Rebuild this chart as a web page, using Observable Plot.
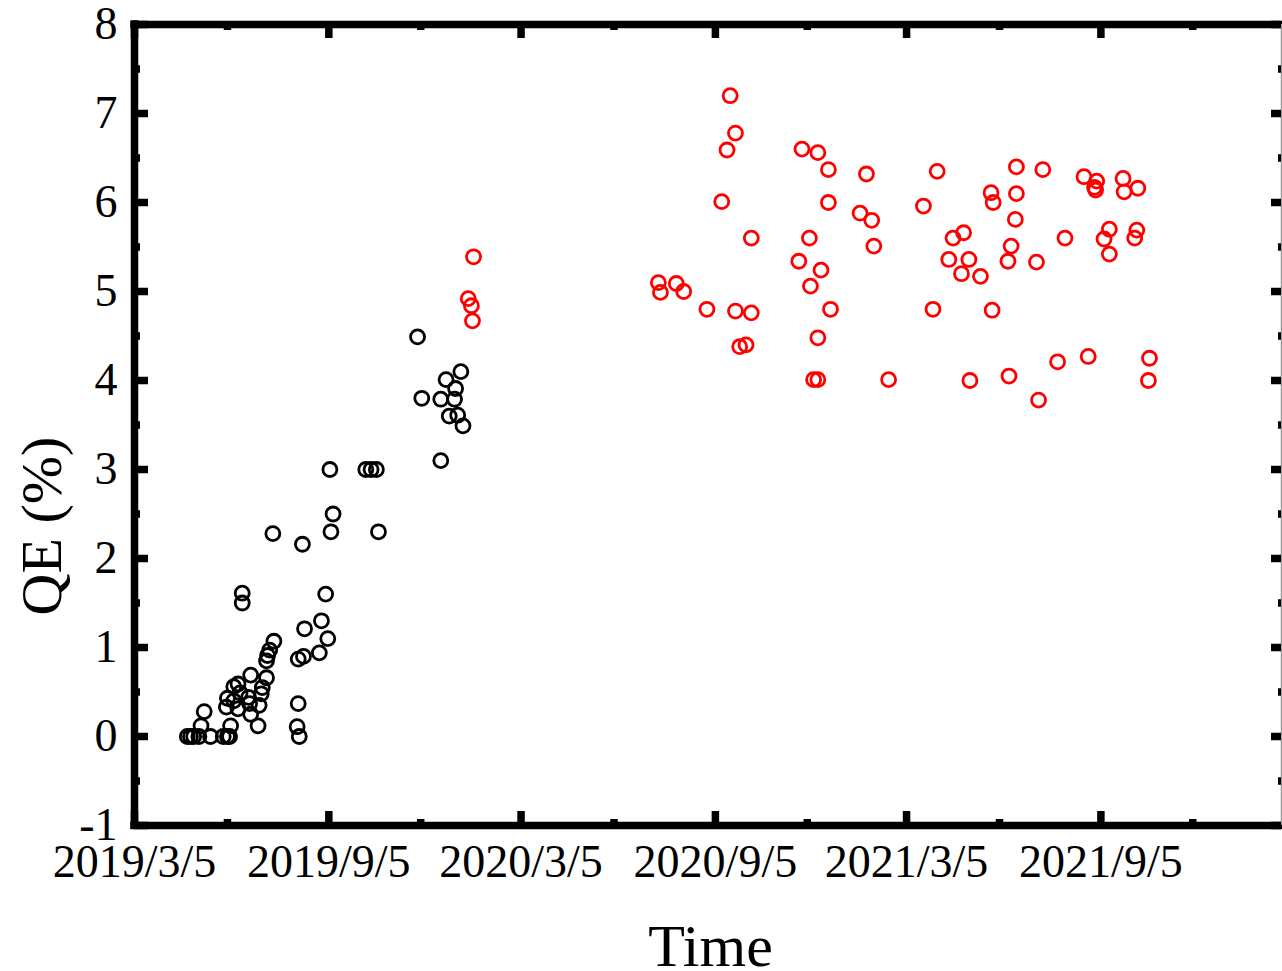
<!DOCTYPE html>
<html>
<head>
<meta charset="utf-8">
<script src="https://cdn.jsdelivr.net/npm/d3@7"></script>
<script src="https://cdn.jsdelivr.net/npm/@observablehq/plot@0.6"></script>
<style>
  html, body { margin: 0; padding: 0; background: #fff; overflow: hidden; }
</style>
</head>
<body>
<div id="chart"></div>
<script>
// Quantum efficiency measurements over time (two groups: black and red)
const blackDates = [
  "2019-04-24","2019-04-27","2019-04-30","2019-05-05","2019-05-07","2019-05-10","2019-05-16","2019-05-28",
  "2019-05-31","2019-06-01","2019-06-01","2019-06-03","2019-06-04","2019-06-07","2019-06-07","2019-06-11",
  "2019-06-11","2019-06-13","2019-06-15","2019-06-15","2019-06-21","2019-06-22","2019-06-23","2019-06-23",
  "2019-06-30","2019-07-01","2019-07-03","2019-07-04","2019-07-08","2019-07-08","2019-07-09","2019-07-11",
  "2019-07-14","2019-07-15","2019-08-06","2019-08-07","2019-08-07","2019-08-08","2019-08-11","2019-08-12",
  "2019-08-13","2019-08-27","2019-08-29","2019-09-02","2019-09-04","2019-09-06","2019-09-07","2019-09-09",
  "2019-10-10","2019-10-15","2019-10-20","2019-10-22","2019-11-28","2019-12-02","2019-12-20","2019-12-20",
  "2019-12-25","2019-12-28","2020-01-02","2020-01-03","2020-01-05","2020-01-08","2020-01-10"
];
const blackQE = [
  0, 0, 0, 0, 0.12, 0.28, 0, 0,
  0.33, 0, 0.43, 0, 0.12, 0.40, 0.56, 0.31,
  0.59, 0.49, 1.61, 1.50, 0.44, 0.37, 0.25, 0.69,
  0.12, 0.35, 0.48, 0.55, 0.66, 0.85, 0.91, 0.97,
  2.28, 1.07, 0.11, 0.37, 0.87, 0, 2.16, 0.90,
  1.21, 0.94, 1.30, 1.60, 1.10, 3.00, 2.30, 2.50,
  3.00, 3.00, 3.00, 2.30, 4.49, 3.80, 3.10, 3.79,
  4.01, 3.60, 3.79, 3.91, 3.61, 4.10, 3.49
];

const redDates = [
  "2020-01-15","2020-01-18","2020-01-19","2020-01-20","2020-07-13","2020-07-15","2020-07-30","2020-08-06",
  "2020-08-28","2020-09-11","2020-09-16","2020-09-19","2020-09-24","2020-09-24","2020-09-28","2020-10-04",
  "2020-10-09","2020-10-09","2020-11-23","2020-11-26","2020-12-03","2020-12-04","2020-12-07","2020-12-11",
  "2020-12-11","2020-12-11","2020-12-14","2020-12-21","2020-12-21","2020-12-23","2021-01-20","2021-01-26",
  "2021-01-31","2021-02-02","2021-02-16","2021-03-21","2021-03-30","2021-04-03","2021-04-14","2021-04-18",
  "2021-04-26","2021-04-28","2021-05-03","2021-05-04","2021-05-14","2021-05-24","2021-05-25","2021-05-26",
  "2021-06-09","2021-06-10","2021-06-12","2021-06-16","2021-06-17","2021-06-17","2021-07-06","2021-07-08",
  "2021-07-12","2021-07-26","2021-08-02","2021-08-20","2021-08-24","2021-08-30","2021-08-31","2021-09-01",
  "2021-09-08","2021-09-13","2021-09-13","2021-09-26","2021-09-27","2021-10-07","2021-10-09","2021-10-10",
  "2021-10-20","2021-10-21"
];
const redQE = [
  4.92, 4.84, 4.67, 5.39, 5.10, 4.99, 5.09, 5.00,
  4.80, 6.01, 6.59, 7.20, 6.78, 4.78, 4.38, 4.40,
  5.60, 4.76, 5.34, 6.60, 5.60, 5.06, 4.01, 4.48,
  4.01, 6.56, 5.24, 6.37, 6.00, 4.80, 5.88, 6.32,
  5.80, 5.51, 4.01, 5.96, 4.80, 6.35, 5.36, 5.60,
  5.20, 5.66, 5.36, 4.00, 5.17, 6.11, 4.79, 6.00,
  5.34, 4.05, 5.51, 5.81, 6.10, 6.40, 5.33, 3.78,
  6.37, 4.21, 5.60, 6.29, 4.27, 6.17, 6.14, 6.24,
  5.59, 5.70, 5.42, 6.27, 6.12, 5.60, 5.69, 6.16,
  4.00, 4.25
];

// Axis settings
const xDomain = ["2019-03-05", "2022-02-23"];
const xMajorTicks = ["2019-03-05","2019-09-05","2020-03-05","2020-09-05","2021-03-05","2021-09-05"];
const xMinorTicks = ["2019-06-01","2019-12-01","2020-06-01","2020-12-01","2021-06-01","2021-12-01"];
const yDomain = [-1, 8];
const yMajorTicks = [-1, 0, 1, 2, 3, 4, 5, 6, 7, 8];
const yMinorTicks = [-0.5, 0.5, 1.5, 2.5, 3.5, 4.5, 5.5, 6.5, 7.5];

const parse = s => new Date(s + "T00:00:00Z");
const black = blackDates.map((d, i) => ({date: parse(d), qe: blackQE[i]}));
const red = redDates.map((d, i) => ({date: parse(d), qe: redQE[i]}));
const xMajor = xMajorTicks.map(parse);
const xMinor = xMinorTicks.map(parse);
const fmt = d3.utcFormat("%Y/%-m/%-d");

const W = 1282, H = 971;
const mTop = 24, mLeft = 134, mRight = 1, mBottom = 146;
const frameW = W - mLeft - mRight;
const frameH = H - mTop - mBottom;
const lw = 7.5;          // axis line weight
const majorLen = 14, minorLen = 6;

const chart = Plot.plot({
  width: W,
  height: H,
  marginTop: mTop,
  marginLeft: mLeft,
  marginRight: mRight,
  marginBottom: mBottom,
  x: {type: "utc", domain: xDomain.map(parse)},
  y: {domain: yDomain},
  style: {fontFamily: "'Liberation Serif', 'Times New Roman', serif", background: "#fff", overflow: "visible"},
  marks: [
    // data
    Plot.dot(black, {x: "date", y: "qe", r: 7, stroke: "#000", strokeWidth: 2.8, fill: "none"}),
    Plot.dot(red, {x: "date", y: "qe", r: 7, stroke: "#ff0000", strokeWidth: 2.8, fill: "none"}),

    // frame: thick top, left and bottom, thin right
    Plot.ruleY([yDomain[0], yDomain[1]], {stroke: "#000", strokeWidth: lw, strokeLinecap: "square"}),
    Plot.ruleX([parse(xDomain[0])], {stroke: "#000", strokeWidth: lw, strokeLinecap: "square"}),
    Plot.ruleX([parse(xDomain[1])], {stroke: "#999", strokeWidth: 1.5}),

    // inward ticks, bottom and top
    Plot.tickX(xMajor, {x: d => d, insetTop: frameH - majorLen, stroke: "#000", strokeWidth: lw}),
    Plot.tickX(xMinor, {x: d => d, insetTop: frameH - minorLen, stroke: "#000", strokeWidth: lw}),
    Plot.tickX(xMajor, {x: d => d, insetBottom: frameH - majorLen, stroke: "#000", strokeWidth: lw}),
    Plot.tickX(xMinor, {x: d => d, insetBottom: frameH - minorLen, stroke: "#000", strokeWidth: lw}),

    // inward ticks, left and right
    Plot.tickY(yMajorTicks, {y: d => d, insetRight: frameW - majorLen, stroke: "#000", strokeWidth: lw}),
    Plot.tickY(yMinorTicks, {y: d => d, insetRight: frameW - minorLen, stroke: "#000", strokeWidth: lw}),
    Plot.tickY(yMajorTicks, {y: d => d, insetLeft: frameW - 10, stroke: "#000", strokeWidth: lw}),
    Plot.tickY(yMinorTicks, {y: d => d, insetLeft: frameW - 3, stroke: "#000", strokeWidth: lw}),

    // tick labels
    Plot.axisX(xMajor, {anchor: "bottom", tickSize: 0, tickPadding: 19, fontSize: 46, tickFormat: fmt, label: null}),
    Plot.axisY(yMajorTicks, {anchor: "left", tickSize: 0, tickPadding: 17, fontSize: 46, tickFormat: d => String(d), label: null}),

    // axis titles
    Plot.text(["Time"], {text: d => d, frameAnchor: "bottom", dx: 2.5, dy: 121, fontSize: 60, lineAnchor: "middle", textAnchor: "middle"}),
    Plot.text(["QE (%)"], {text: d => d, frameAnchor: "left", rotate: -90, dx: -92, dy: 101, fontSize: 58, lineAnchor: "middle", textAnchor: "middle"})
  ]
});

document.getElementById("chart").appendChild(chart);
</script>
</body>
</html>
